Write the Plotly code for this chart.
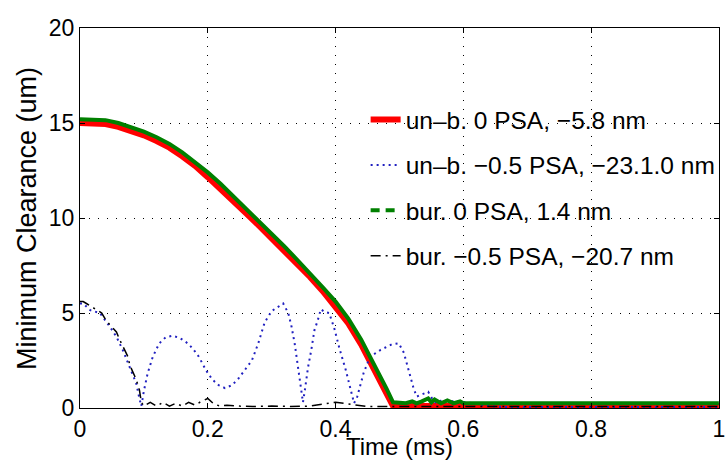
import plotly.graph_objects as go

# ---------------- data ----------------
t_red = [0, .02, .04, .06, .08, .10, .12, .14, .16, .18, .20, .22, .24, .26, .28, .30,
         .32, .34, .36, .38, .40, .42, .44, .46, .48, .49, .50, .55, .60, .70, .80, .90, 1.0]
unb_0psa = [15.0, 15.0, 14.95, 14.8, 14.6, 14.35, 14.05, 13.7, 13.25, 12.75, 12.15, 11.55,
            10.9, 10.25, 9.6, 8.95, 8.3, 7.6, 6.9, 6.15, 5.35, 4.45, 3.35, 2.1, 0.75, 0.1,
            0.1, 0.1, 0.1, 0.1, 0.1, 0.1, 0.1]

t_blue = [0, .005, .016, .031, .047, .057, .067, .078, .088, .093, .096, .1, .106, .114,
          .124, .134, .145, .155, .165, .176, .186, .197, .207, .217, .227, .238, .248,
          .258, .269, .279, .289, .30, .31, .318, .326, .331, .336, .341, .346, .349,
          .352, .357, .362, .367, .372, .377, .383, .39, .398, .406, .416, .424, .429,
          .434, .444, .454, .47, .488, .499, .507, .514, .522, .527, .535, .545, .553,
          .558, .566, .584, .605, .625, .64, .66, .7, .8, .9, 1.0]
unb_m05psa = [5.5, 5.5, 5.15, 5.0, 4.27, 3.75, 3.05, 2.15, 1.3, 0.5, 0.1, 0.9, 1.84, 2.7,
              3.4, 3.72, 3.8, 3.7, 3.5, 3.15, 2.7, 2.0, 1.5, 1.2, 1.05, 1.2, 1.55, 2.0,
              2.5, 3.4, 4.5, 5.1, 5.3, 5.5, 5.0, 4.3, 3.4, 2.2, 1.1, 0.3, 0.95, 2.15,
              3.05, 4.1, 4.6, 5.2, 5.05, 5.0, 4.2, 3.15, 2.0, 0.95, 0.25, 0.6, 1.85, 2.7,
              3.05, 3.35, 3.4, 2.9, 2.0, 1.05, 0.6, 0.7, 0.85, 0.4, 0.25, 0.4, 0.35, 0.3,
              0.2, 0.1, 0.05, 0.05, 0.05, 0.05, 0.05]

t_green = [0, .02, .04, .06, .08, .10, .12, .14, .16, .18, .20, .22, .24, .26, .28, .30,
           .32, .34, .36, .38, .40, .42, .44, .46, .48, .49, .50, .51, .52, .527, .535,
           .545, .55, .555, .565, .575, .585, .595, .60, .62, .65, .7, .8, .9, 1.0]
bur_0psa = [15.2, 15.2, 15.15, 15.0, 14.8, 14.55, 14.25, 13.9, 13.45, 12.95, 12.4, 11.8,
            11.15, 10.5, 9.85, 9.2, 8.5, 7.8, 7.1, 6.35, 5.6, 4.7, 3.6, 2.35, 1.0,
            0.3, 0.25, 0.25, 0.35, 0.25, 0.35, 0.5, 0.3, 0.45, 0.25, 0.4, 0.25, 0.35,
            0.25, 0.25, 0.25, 0.25, 0.25, 0.25, 0.25]

t_black = [0, .005, .01, .02, .034, .041, .057, .062, .075, .078, .088, .093, .096, .1,
           .11, .12, .13, .14, .15, .16, .17, .18, .19, .2, .21, .22, .23, .25, .27, .3,
           .33, .36, .4, .45, .5, .6, .7, .8, .9, 1.0]
bur_m05psa = [5.6, 5.6, 5.5, 5.3, 5.0, 4.6, 4.0, 3.6, 2.7, 2.25, 1.5, 0.95, 0.3, 0.1, 0.3,
              0.1, 0.3, 0.1, 0.25, 0.1, 0.3, 0.15, 0.35, 0.5, 0.2, 0.1, 0.15, 0.1, 0.08,
              0.1, 0.08, 0.1, 0.3, 0.08, 0.08, 0.08, 0.08, 0.08, 0.08, 0.08]

names = ["un\u2013b. 0 PSA, \u22125.8 nm",
         "un\u2013b. \u22120.5 PSA, \u221223.1.0 nm",
         "bur. 0 PSA, 1.4 nm",
         "bur. \u22120.5 PSA, \u221220.7 nm"]

x_ticks = [0, 0.2, 0.4, 0.6, 0.8, 1.0]
x_ticktext = ["0", "0.2", "0.4", "0.6", "0.8", "1"]
y_ticks = [0, 5, 10, 15, 20]

FONT = "Liberation Sans, Arial, sans-serif"

fig = go.Figure()
fig.add_trace(go.Scatter(x=t_red, y=unb_0psa, mode="lines", name=names[0],
                         line=dict(color="#ff0000", width=6),
                         legendgroup="a", legendrank=1))
fig.add_trace(go.Scatter(x=t_blue, y=unb_m05psa, mode="lines", name=names[1],
                         line=dict(color="#2020c0", width=2, dash="2px,4px"),
                         legendgroup="b", legendrank=2))
fig.add_trace(go.Scatter(x=t_green, y=bur_0psa, mode="lines", name=names[2],
                         line=dict(color="#008000", width=4), showlegend=False,
                         legendgroup="c"))
fig.add_trace(go.Scatter(x=[None], y=[None], mode="lines", name=names[2],
                         line=dict(color="#008000", width=4, dash="9px,6px"),
                         legendgroup="c", legendrank=3))
fig.add_trace(go.Scatter(x=t_black, y=bur_m05psa, mode="lines", name=names[3],
                         line=dict(color="#000000", width=1.5, dash="10px,5px,2px,5px"),
                         legendgroup="d", legendrank=4))

axis_common = dict(showline=True, linecolor="black", linewidth=1, mirror="ticks",
                   ticks="inside", ticklen=5, tickcolor="black", showgrid=True,
                   gridcolor="black", gridwidth=1, griddash="1px,8px", zeroline=False,
                   tickfont=dict(family=FONT, size=23, color="black"))

fig.update_xaxes(range=[0, 1.0002], tickvals=x_ticks, ticktext=x_ticktext,
                 ticklabeloverflow="allow", **axis_common)
fig.update_yaxes(range=[0, 20], tickvals=y_ticks, **axis_common)

fig.update_layout(
    width=727, height=464,
    margin=dict(l=80, r=2, t=28, b=56),
    plot_bgcolor="white", paper_bgcolor="white",
    showlegend=True,
    legend=dict(x=0.447, y=0.818, xanchor="left", yanchor="top",
                bgcolor="rgba(0,0,0,0)", borderwidth=0,
                traceorder="grouped", tracegroupgap=10.5,
                font=dict(family=FONT, size=24.5, color="black")),
    annotations=[
        dict(text="Time (ms)", xref="paper", yref="paper", x=0.5, y=-0.1,
             xanchor="center", yanchor="middle", showarrow=False,
             font=dict(family=FONT, size=24, color="black")),
        dict(text="Minimum Clearance (um)", xref="paper", yref="paper", x=-0.083, y=0.5,
             xanchor="center", yanchor="middle", showarrow=False, textangle=-90,
             font=dict(family=FONT, size=27, color="black")),
    ],
)

fig.write_html("out.html")
